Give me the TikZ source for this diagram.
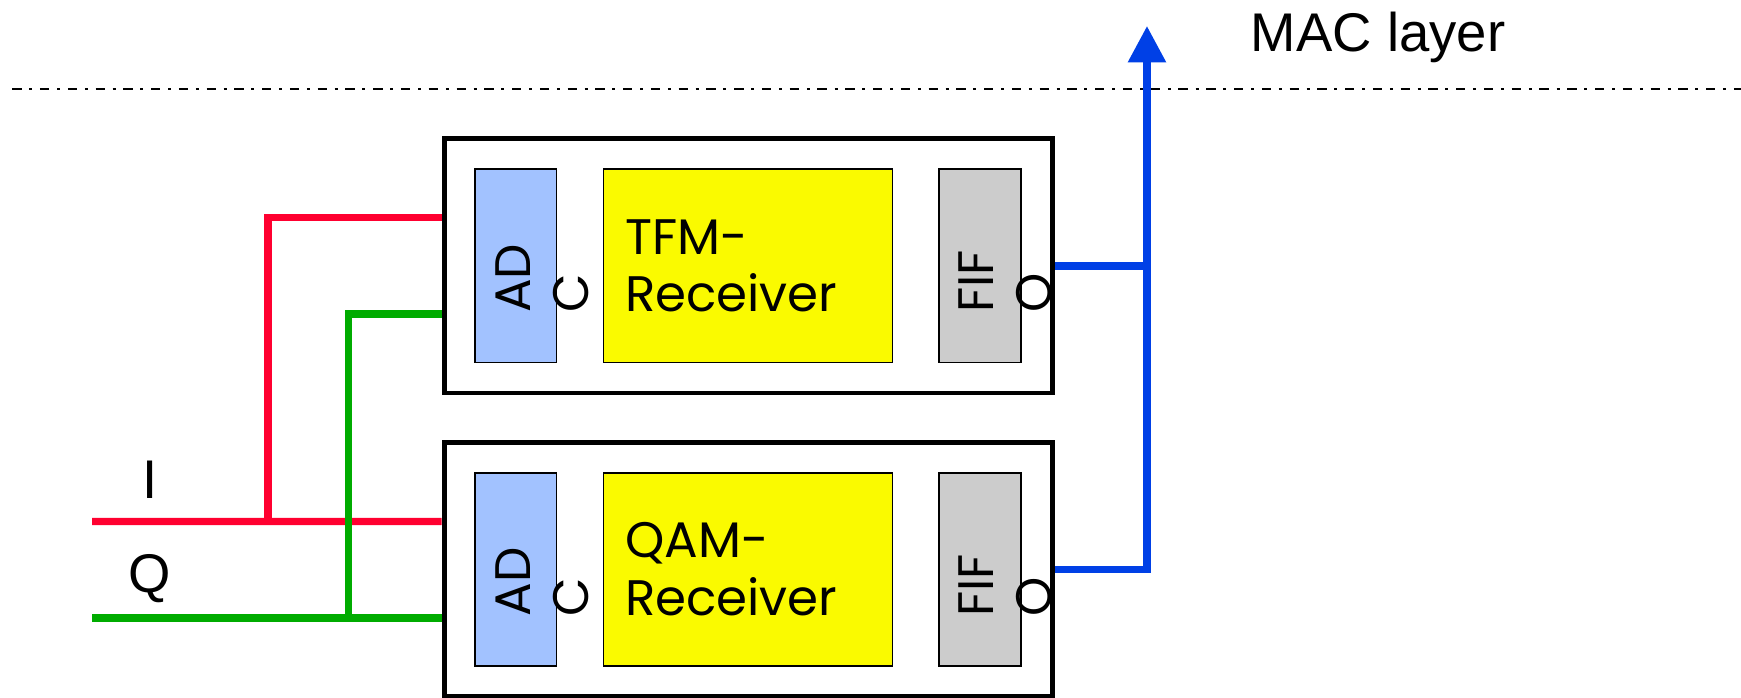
\documentclass[tikz,border=0pt]{standalone}
\usepackage{fontspec}
\setmainfont{Liberation Sans}
\newfontfamily\geofont{Poppins}
\usetikzlibrary{arrows.meta,calc}

\definecolor{iline}{RGB}{255,0,48}
\definecolor{qline}{RGB}{0,172,0}
\definecolor{macblue}{RGB}{0,64,230}
\definecolor{adcblue}{RGB}{162,194,255}
\definecolor{rxyellow}{RGB}{250,250,0}
\definecolor{fifogray}{RGB}{204,204,204}

\begin{document}
\begin{tikzpicture}[
  x=0.11103mm, y=-0.11103mm,
  outer/.style={rectangle, draw=black, line width=1.4pt, fill=white,
    minimum width=60.79mm, minimum height=25.43mm, inner sep=0pt},
  blk/.style={rectangle, draw=black, line width=0.5pt,
    minimum height=19.32mm, inner sep=0pt},
  adc/.style={blk, fill=adcblue, minimum width=8.16mm},
  rx/.style={blk, fill=rxyellow, minimum width=28.9mm, inner xsep=2.17mm,
    text width=24.56mm, align=left, font=\geofont\fontsize{14.2}{16.5}\selectfont},
  fifo/.style={blk, fill=fifogray, minimum width=8.13mm},
  vtxt/.style={rotate=90, anchor=north west, inner sep=0pt, align=left,
    font=\geofont\fontsize{14.2}{16.5}\selectfont},
  lbl/.style={font=\fontsize{15.5}{18}\selectfont, anchor=base, inner sep=0pt},
  sig/.style={line width=2.1pt},
]
\useasboundingbox (0,0) rectangle (1568,628);

% Layer boundary
\draw[line width=0.76pt, dash pattern=on 2.65pt off 2.2pt on 0.85pt off 2.2pt]
  (11,80.2) -- (1568,80.2);
\node[lbl, anchor=base west] (maclbl) at (1126,46.5) {MAC layer};

% TFM chain
\node[outer] (tfm) at (673.75,239.4) {};
\node[adc] (tfmadc) at (464.5,239.4) {};
\node[rx] (tfmrx) at (673.6,239.4) {TFM-\\Receiver};
\node[fifo] (tfmfifo) at (882.6,239.4) {};
\node[vtxt] at (445.5,282.2) {AD\\C};
\node[vtxt] at (862.5,282.2) {FIF\\O};

% QAM chain
\node[outer] (qam) at (673.75,513) {};
\node[adc] (qamadc) at (464.5,513) {};
\node[rx] (qamrx) at (673.6,513) {QAM-\\Receiver};
\node[fifo] (qamfifo) at (882.6,513) {};
\node[vtxt] at (445.5,555.8) {AD\\C};
\node[vtxt] at (862.5,555.8) {FIF\\O};

% I/Q inputs
\node[lbl] (ilbl) at (135.5,448.7) {I};
\node[lbl] (qlbl) at (134.8,533.5) {Q};
\coordinate (iin) at (83,469.7);
\coordinate (qin) at (83,556.5);
\coordinate (isplit) at (241.2,469.7);
\coordinate (qsplit) at (313.6,556.5);

\draw[sig, iline] (iin) -- ($(qam.west)+(0,-43.3)$);
\draw[sig, iline] (isplit) |- ($(tfm.west)+(0,-43.3)$);
\draw[sig, qline] (qin) -- ($(qam.west)+(0,43.5)$);
\draw[sig, qline] (qsplit) |- ($(tfm.west)+(0,43.5)$);

% Outputs to MAC layer
\coordinate (mac) at (1033,23.4);
\draw[sig, macblue] (tfm.east) -- (tfm.east -| mac);
\draw[sig, macblue, -{Triangle[width=3.64mm, length=3.63mm]}]
  (qam.east) -- (qam.east -| mac) -- (mac);

\end{tikzpicture}
\end{document}
